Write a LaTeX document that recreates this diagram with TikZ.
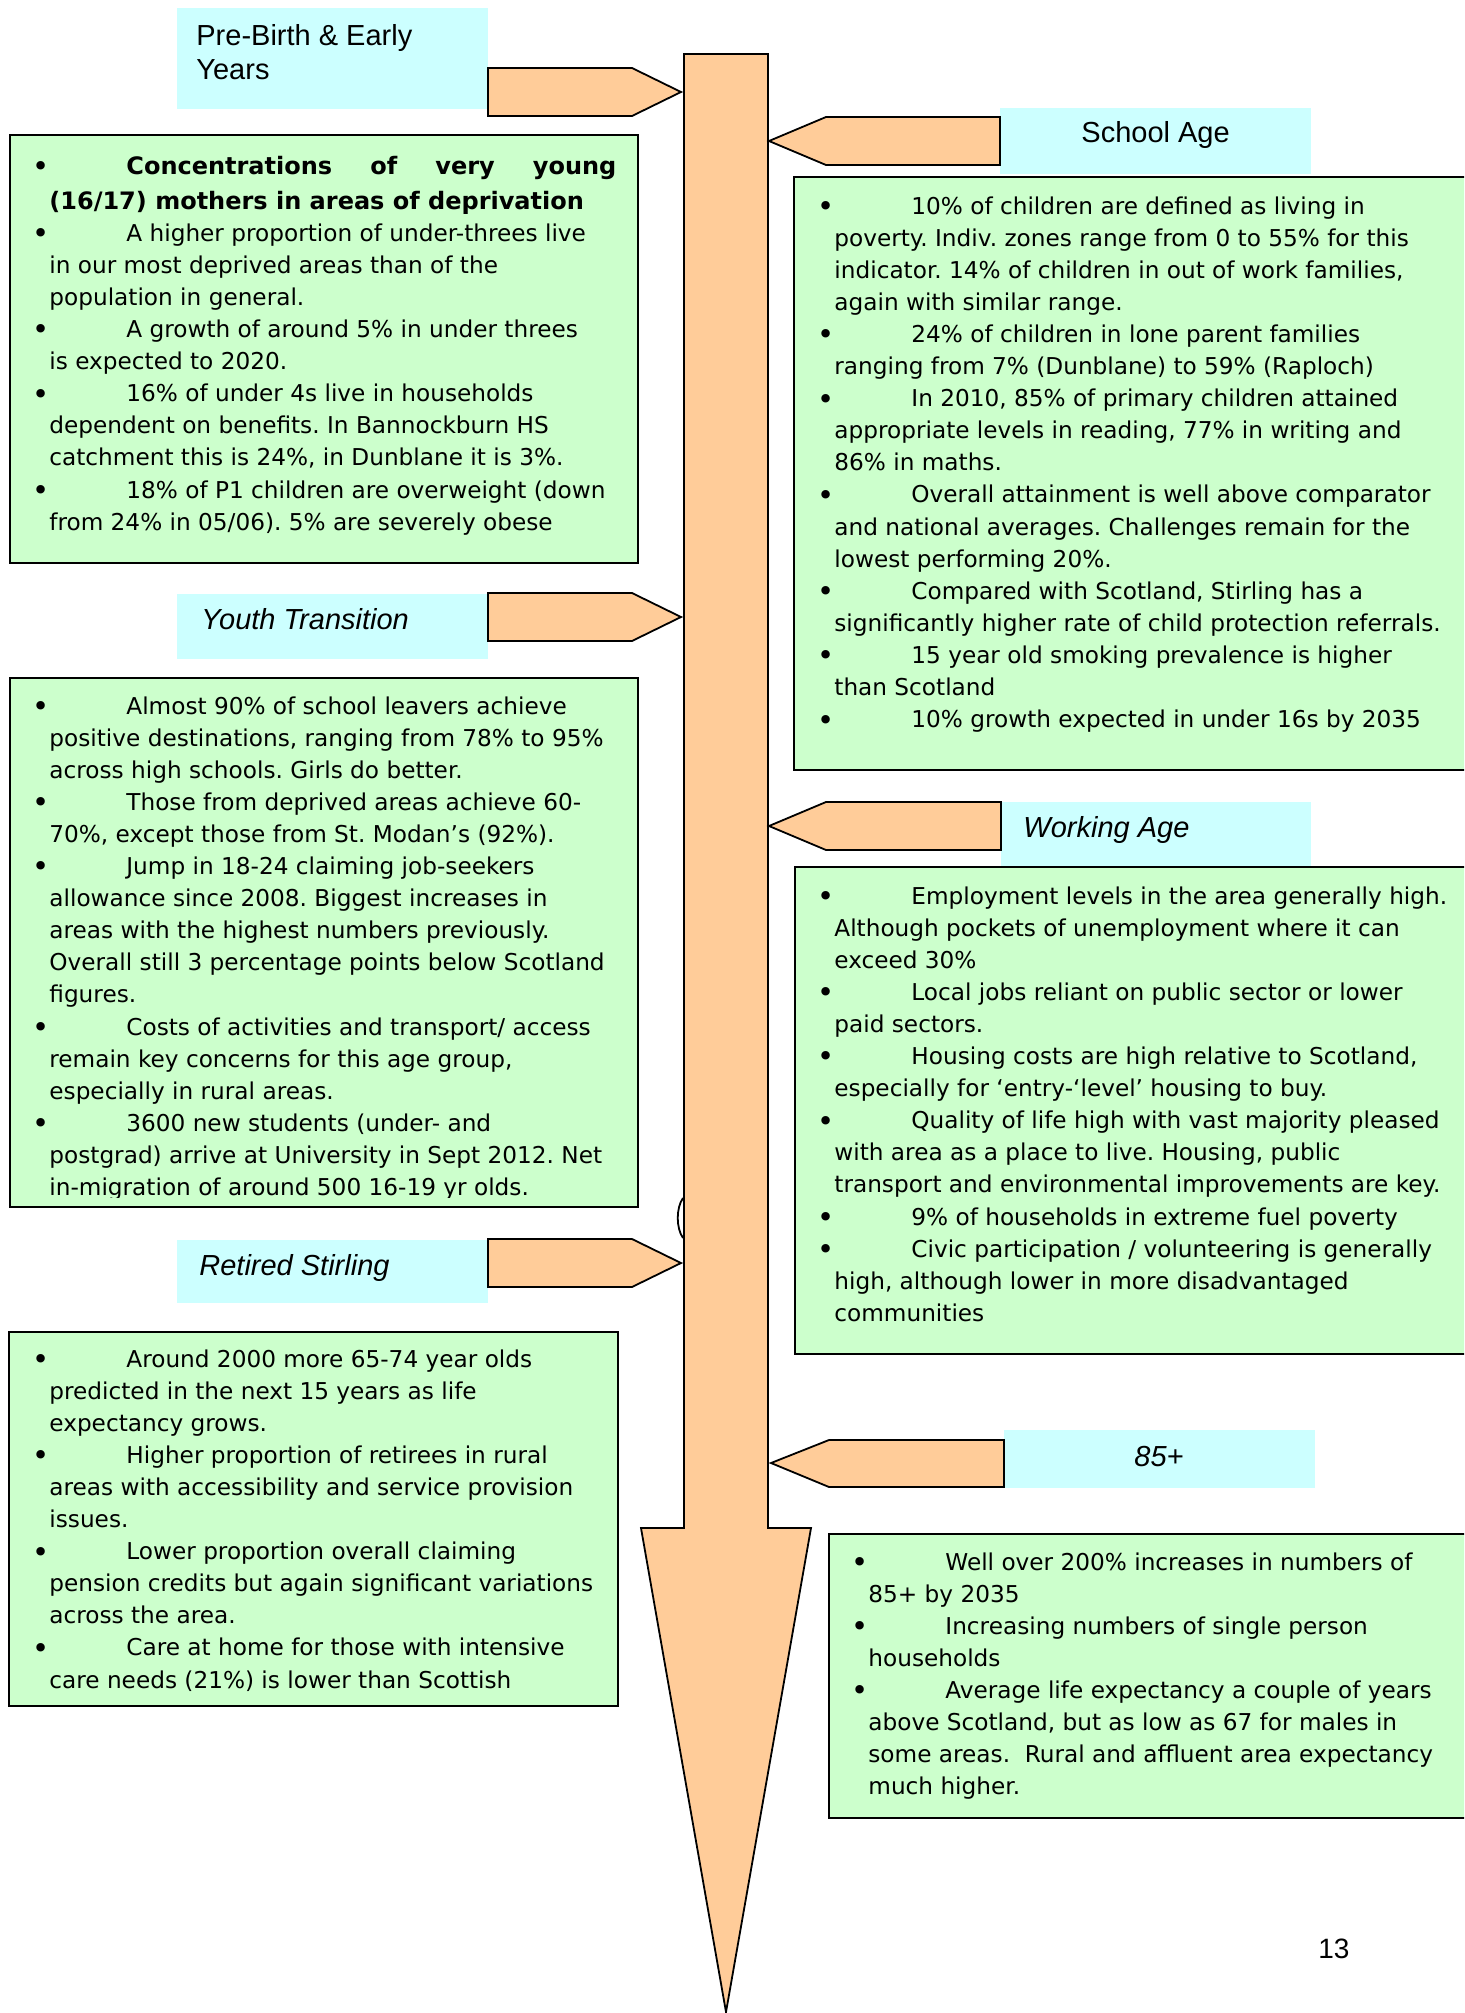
\documentclass[tikz,border=0pt]{standalone}
\usepackage{fontspec}
\setmainfont{DejaVu Sans}
\newfontfamily\labelfont{Liberation Sans}
\definecolor{boxgreen}{HTML}{CCFFCC}
\definecolor{tagcyan}{HTML}{CCFFFF}
\definecolor{shaftorange}{HTML}{FFCC99}
\newcommand\bul{\hspace*{-8.5pt}\makebox[47pt][l]{\raisebox{-1.2pt}{\fontsize{14.5}{0}\selectfont•}}}
\newcommand\bodytext{\fontsize{11.6}{16.05}\selectfont\frenchspacing\raggedright}
\newcommand\tagtext{\labelfont\fontsize{14.5}{16.5}\selectfont}

\begin{document}
\begin{tikzpicture}[x=0.5pt,y=-0.5pt,
  factbox/.style={draw=black,line width=0.9pt,fill=boxgreen},
  tagbox/.style={fill=tagcyan},
  pointer/.style={draw=black,line width=0.9pt,fill=shaftorange},
  facts/.style={anchor=base west,inner sep=0pt},
  tag/.style={anchor=base west,inner sep=0pt,font=\tagtext}]
\useasboundingbox (0,0) rectangle (1464,2013);
\clip (0,0) rectangle (1464,2013);

% the time line
\draw[pointer] (684,54) -- (768,54) -- (768,1528) -- (811,1528) -- (726,2012)
  -- (641,1528) -- (684,1528) -- cycle;
\draw[line width=0.9pt] (683,1198) .. controls (676,1208) and (676,1228) .. (683,1238);

% stage labels
\fill[tagbox] (177,8) rectangle (488,109);
\fill[tagbox] (177,594) rectangle (488,659);
\fill[tagbox] (177,1240) rectangle (488,1303);
\fill[tagbox] (1000,108) rectangle (1311,174);
\fill[tagbox] (1001,802) rectangle (1311,866);
\fill[tagbox] (1004,1430) rectangle (1315,1488);

% pointers onto the time line
\draw[pointer] (488,68) -- (632,68) -- (681,92) -- (632,116) -- (488,116) -- cycle;
\draw[pointer] (488,593) -- (632,593) -- (681,617) -- (632,641) -- (488,641) -- cycle;
\draw[pointer] (488,1239) -- (632,1239) -- (681,1263) -- (632,1287) -- (488,1287) -- cycle;
\draw[pointer] (1000,117) -- (826,117) -- (769,141) -- (826,165) -- (1000,165) -- cycle;
\draw[pointer] (1001,802) -- (826,802) -- (769,826) -- (826,850) -- (1001,850) -- cycle;
\draw[pointer] (1004,1440) -- (829,1440) -- (771,1463) -- (829,1487) -- (1004,1487) -- cycle;

\node[tag] (prebirth) at (196,45) {\parbox[t]{150pt}{\labelfont\fontsize{14.5}{17.3}\selectfont Pre-Birth \& Early\\Years}};
\node[tag] (youth) at (201,629) {\itshape Youth Transition};
\node[tag] (retired) at (199,1275) {\itshape Retired Stirling};
\node[tag] (school) at (1081,142) {School Age};
\node[tag] (working) at (1023,837) {\itshape Working Age};
\node[tag,anchor=base] (oldest) at (1159,1466) {\itshape 85+};

% fact boxes
\draw[factbox] (10,135) rectangle (638,563);
\draw[factbox] (10,678) rectangle (638,1207);
\draw[factbox] (9,1332) rectangle (618,1706);
\draw[factbox] (794,177) rectangle (1475,770);
\draw[factbox] (795,867) rectangle (1475,1354);
\draw[factbox] (829,1534) rectangle (1475,1818);

\node[facts] (earlyfacts) at (49,174) {\parbox[t]{310pt}{\bodytext
\bul\makebox[245pt][s]{\fontsize{12}{16}\bfseries Concentrations of very young}\\[1.5pt]
{\fontsize{12}{16}\bfseries (16/17) mothers in areas of deprivation}\\
\bul A higher proportion of under-threes live\\
in our most deprived areas than of the\\
population in general.\\
\bul A growth of around 5\% in under threes\\
is expected to 2020.\\
\bul 16\% of under 4s live in households\\
dependent on benefits. In Bannockburn HS\\
catchment this is 24\%, in Dunblane it is 3\%.\\
\bul 18\% of P1 children are overweight (down\\
from 24\% in 05/06). 5\% are severely obese}};

\begin{scope}
\clip (10,678) rectangle (638,1197);
\node[facts] (youthfacts) at (49,714) {\parbox[t]{310pt}{\bodytext
\bul Almost 90\% of school leavers achieve\\
positive destinations, ranging from 78\% to 95\%\\
across high schools. Girls do better.\\
\bul Those from deprived areas achieve 60-\\
70\%, except those from St. Modan’s (92\%).\\
\bul Jump in 18-24 claiming job-seekers\\
allowance since 2008. Biggest increases in\\
areas with the highest numbers previously.\\
Overall still 3 percentage points below Scotland\\
figures.\\
\bul Costs of activities and transport/ access\\
remain key concerns for this age group,\\
especially in rural areas.\\
\bul 3600 new students (under- and\\
postgrad) arrive at University in Sept 2012. Net\\
in-migration of around 500 16-19 yr olds.}};
\end{scope}

\node[facts] (retiredfacts) at (49,1367) {\parbox[t]{310pt}{\bodytext
\bul Around 2000 more 65-74 year olds\\
predicted in the next 15 years as life\\
expectancy grows.\\
\bul Higher proportion of retirees in rural\\
areas with accessibility and service provision\\
issues.\\
\bul Lower proportion overall claiming\\
pension credits but again significant variations\\
across the area.\\
\bul Care at home for those with intensive\\
care needs (21\%) is lower than Scottish}};

\node[facts] (schoolfacts) at (834,214) {\parbox[t]{330pt}{\bodytext
\bul 10\% of children are defined as living in\\
poverty. Indiv. zones range from 0 to 55\% for this\\
indicator. 14\% of children in out of work families,\\
again with similar range.\\
\bul 24\% of children in lone parent families\\
ranging from 7\% (Dunblane) to 59\% (Raploch)\\
\bul In 2010, 85\% of primary children attained\\
appropriate levels in reading, 77\% in writing and\\
86\% in maths.\\
\bul Overall attainment is well above comparator\\
and national averages. Challenges remain for the\\
lowest performing 20\%.\\
\bul Compared with Scotland, Stirling has a\\
significantly higher rate of child protection referrals.\\
\bul 15 year old smoking prevalence is higher\\
than Scotland\\
\bul 10\% growth expected in under 16s by 2035}};

\node[facts] (workingfacts) at (834,904) {\parbox[t]{330pt}{\bodytext
\bul Employment levels in the area generally high.\\
Although pockets of unemployment where it can\\
exceed 30\%\\
\bul Local jobs reliant on public sector or lower\\
paid sectors.\\
\bul Housing costs are high relative to Scotland,\\
especially for ‘entry-‘level’ housing to buy.\\
\bul Quality of life high with vast majority pleased\\
with area as a place to live. Housing, public\\
transport and environmental improvements are key.\\
\bul 9\% of households in extreme fuel poverty\\
\bul Civic participation / volunteering is generally\\
high, although lower in more disadvantaged\\
communities}};

\node[facts] (oldestfacts) at (868,1570) {\parbox[t]{310pt}{\bodytext
\bul Well over 200\% increases in numbers of\\
85+ by 2035\\
\bul Increasing numbers of single person\\
households\\
\bul Average life expectancy a couple of years\\
above Scotland, but as low as 67 for males in\\
some areas.\ \ Rural and affluent area expectancy\\
much higher.}};

\node[anchor=base west,inner sep=0pt,font=\labelfont\fontsize{14}{16}\selectfont] (pageno) at (1318,1958) {13};
\end{tikzpicture}
\end{document}
